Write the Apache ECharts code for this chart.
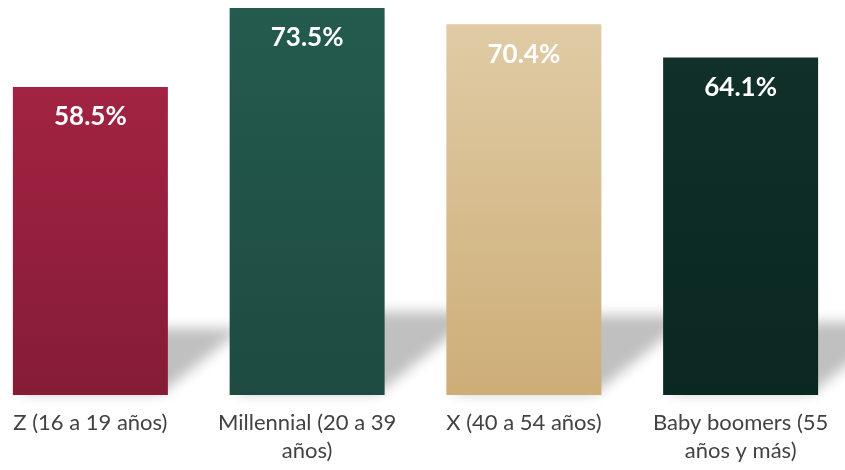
<!DOCTYPE html>
<html>
<head>
<meta charset="utf-8">
<script src="https://cdn.jsdelivr.net/npm/echarts@6/dist/echarts.min.js"></script>
<style>html,body{margin:0;padding:0;background:#fff;}#c{width:845px;height:470px;}</style>
</head>
<body>
<div id="c"></div>
<script>
var categories = ['Z (16 a 19 años)', 'Millennial (20 a 39\naños)', 'X (40 a 54 años)', 'Baby boomers (55\naños y más)'];
var values = [58.5, 73.5, 70.4, 64.1];

var topColors = ['#A22342', '#245B4F', '#E0CBA5', '#11302A'];
var bottomColors = ['#851C36', '#1E4A41', '#CDAE77', '#0A2721'];

var chart = echarts.init(document.getElementById('c'));
var BAR_W = 155;
var OFF = 2000;

chart.setOption({
  animation: false,
  grid: { left: -18, right: -4, top: 0, bottom: 75, outerBoundsMode: 'none', containLabel: false },
  xAxis: {
    type: 'category',
    data: categories,
    axisLine: { show: false },
    axisTick: { show: false },
    axisLabel: {
      color: '#424242',
      fontFamily: 'Lato',
      fontSize: 22,
      lineHeight: 28,
      margin: 14,
      interval: 0
    }
  },
  yAxis: { type: 'value', min: 0, max: 75, show: false, splitLine: { show: false } },
  series: [
    {
      type: 'custom',
      z: 1,
      silent: true,
      clip: false,
      data: values.map(function (v, i) { return [i, v]; }),
      renderItem: function (params, api) {
        var top = api.coord([api.value(0), api.value(1)]);
        var base = api.coord([api.value(0), 0]);
        var h = base[1] - top[1];
        var sh = 0.21 * h;
        var dx = 1.25 * sh;
        var x0 = base[0] - BAR_W / 2 + 4 - OFF;
        var x1 = base[0] + BAR_W / 2 - 6 - OFF;
        var yb = base[1] - 2;
        return {
          type: 'polygon',
          shape: { points: [[x0, yb], [x1, yb], [x1 + dx, yb - sh], [x0 + dx, yb - sh]] },
          style: { fill: '#cccccc', shadowBlur: 13, shadowColor: 'rgba(192,192,192,1)', shadowOffsetX: OFF, shadowOffsetY: 0 }
        };
      }
    },
    {
      type: 'bar',
      z: 2,
      barWidth: BAR_W,
      data: values.map(function (v, i) {
        return {
          value: v,
          itemStyle: {
            color: new echarts.graphic.LinearGradient(0, 0, 0, 1, [
              { offset: 0, color: topColors[i] },
              { offset: 1, color: bottomColors[i] }
            ])
          }
        };
      }),
      label: {
        show: true,
        position: 'insideTop',
        distance: 15,
        color: '#ffffff',
        fontFamily: 'Lato',
        fontWeight: 'bold',
        fontSize: 26,
        lineHeight: 30,
        formatter: function (p) { return p.value.toFixed(1) + '%'; }
      }
    }
  ]
});
</script>
</body>
</html>
